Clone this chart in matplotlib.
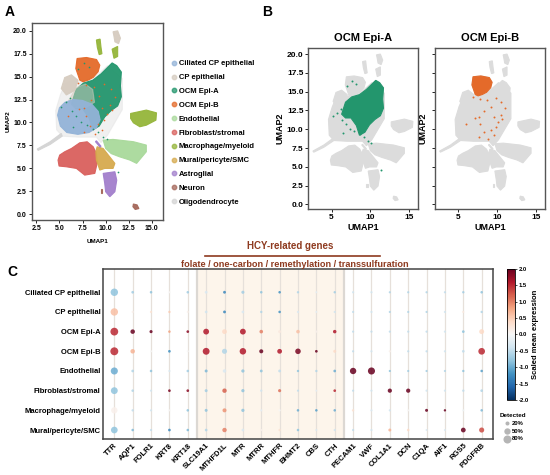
import numpy as np
import matplotlib
matplotlib.use("Agg")
import matplotlib.pyplot as plt
from matplotlib.patches import Polygon
from matplotlib.colors import Normalize
from matplotlib.cm import ScalarMappable
from matplotlib.lines import Line2D

plt.rcParams['font.family'] = ['Liberation Sans', 'DejaVu Sans']
plt.rcParams['font.weight'] = 'bold'
plt.rcParams['axes.labelweight'] = 'bold'
plt.rcParams['axes.titleweight'] = 'bold'

# ---------- UMAP clusters (outlines) ----------
cluster_names = ["Ciliated CP epithelial", "CP epithelial", "OCM Epi-A", "OCM Epi-B",
                 "Endothelial", "Fibroblast/stromal", "Macrophage/myeloid",
                 "Mural/pericyte/SMC", "Astroglial", "Neuron", "Oligodendrocyte"]
cluster_colors = ["#93b3d8", "#d6ccc0", "#23966d", "#e46a2a", "#a9d99b", "#d9605d",
                  "#95b53a", "#d6aa4e", "#a27fcc", "#a5675a", "#d4d4d4"]

oligo_halo = [(4.7, 9.2), (4.6, 11.3), (5.1, 13.0), (5.6, 14.2), (6.4, 14.6), (7.0, 14.4),
              (8.6, 14.7), (10.2, 16.2), (11.8, 14.8), (11.8, 11.4), (10.2, 8.6), (9.5, 7.8),
              (9.0, 8.4), (7.0, 8.4), (5.3, 8.5)]
oligo_line = [(2.6, 7.1), (4.0, 7.9), (5.2, 8.8), (5.3, 8.5), (4.0, 7.6), (2.7, 6.95)]
cp_wedge = [(5.57, 14.9), (6.3, 15.2), (7.02, 14.6), (6.66, 13.5), (5.75, 13.0), (5.2, 13.7)]
cp_top = [(10.8, 19.9), (11.3, 20.0), (11.6, 19.2), (11.4, 18.6), (11.0, 18.8), (10.9, 19.4)]
cp_mix = [(6.0, 12.4), (6.8, 13.8), (7.8, 14.2), (8.6, 13.6), (8.8, 12.2), (7.8, 11.6), (6.6, 11.6)]
epia_body = [(6.3, 12.0), (6.8, 13.6), (7.6, 14.3), (8.6, 14.6), (9.5, 15.3), (10.2, 16.0),
             (10.7, 16.5), (11.2, 16.2), (11.7, 15.5), (11.6, 14.0), (11.7, 12.8), (11.3, 11.8),
             (10.6, 11.3), (9.9, 10.6), (9.3, 9.6), (8.6, 9.2), (8.2, 10.5), (7.5, 11.5), (6.8, 11.5)]
epib_body = [(6.91, 16.98), (7.92, 17.09), (9.01, 16.87), (9.37, 16.25), (9.19, 15.53),
             (8.65, 14.91), (8.10, 14.62), (7.56, 14.44), (7.20, 14.62), (7.02, 15.16), (6.77, 15.89)]
cilia_body = [(4.8, 10.8), (5.0, 11.6), (5.6, 12.2), (6.5, 12.5), (7.5, 12.4), (8.5, 12.0),
              (9.2, 11.2), (9.4, 10.3), (9.0, 9.4), (8.2, 8.9), (7.0, 8.7), (5.8, 8.9), (5.1, 9.6)]
endo_body = [(9.73, 8.07), (10.8, 8.15), (13.0, 7.9), (14.4, 7.53), (14.4, 6.8), (13.35, 5.53),
             (12.6, 5.9), (11.5, 6.25), (10.6, 6.6), (10.0, 7.16)]
fibro_body = [(4.85, 5.89), (4.96, 5.24), (5.75, 5.16), (6.84, 4.98), (7.74, 4.25), (8.83, 4.44),
              (9.08, 5.53), (9.01, 6.62), (8.65, 7.35), (8.0, 7.89), (7.2, 7.78), (6.3, 7.16),
              (5.57, 6.8), (5.03, 6.44)]
macro_body = [(12.7, 10.98), (14.4, 11.35), (15.5, 11.05), (15.44, 10.25), (14.4, 9.7),
              (13.7, 9.53), (13.0, 9.96), (12.7, 10.44)]
macro_top1 = [(9.0, 19.0), (9.4, 19.1), (9.5, 18.2), (9.6, 17.5), (9.3, 17.4), (9.1, 18.2)]
macro_top2 = [(10.7, 18.0), (11.3, 18.3), (11.3, 17.2), (10.9, 17.0)]
mural_body = [(9.08, 7.35), (9.73, 7.16), (11.0, 5.53), (10.8, 4.98), (9.9, 4.98), (9.37, 4.8),
              (9.0, 5.9), (8.94, 6.8)]
astro_body = [(9.73, 4.44), (11.0, 4.62), (11.2, 3.7), (11.0, 2.44), (10.45, 1.89), (10.0, 2.44),
              (9.9, 3.35)]
astro_streak = [(8.9, 7.9), (9.0, 8.0), (9.5, 7.4), (9.4, 7.3)]
neuron_body = [(13.0, 1.1), (13.4, 1.0), (13.6, 0.6), (13.2, 0.5), (12.95, 0.8)]
neuron_bit = [(9.5, 2.75), (9.65, 2.75), (9.65, 2.3), (9.5, 2.3)]

# drawing order: (cluster index, outline)
umap_shapes = [(10, oligo_halo), (10, oligo_line), (2, epia_body), (1, cp_mix), (0, cilia_body),
               (1, cp_wedge), (1, cp_top), (3, epib_body), (4, endo_body), (5, fibro_body),
               (6, macro_body), (6, macro_top1), (6, macro_top2), (7, mural_body),
               (8, astro_body), (8, astro_streak), (9, neuron_body), (9, neuron_bit)]

epia_x = [6.97, 7.63, 8.2, 5.22, 5.75, 6.18, 6.4, 6.84, 7.32, 7.94, 8.64, 9.17, 9.69, 10.13, 11.36, 6.5]
epia_y = [15.8, 16.45, 16.0, 11.7, 12.2, 12.64, 11.26, 10.74, 10.04, 9.74, 9.31, 9.0, 8.44, 8.14, 4.55, 9.5]
epib_x = [6.97, 7.85, 8.73, 9.82, 10.57, 11.0, 10.48, 9.25, 8.38, 7.63, 7.1, 7.85, 9.6, 10.13,
          10.7, 9.82, 9.17, 8.29, 7.63, 5.96, 9.6, 8.8]
epib_y = [14.29, 14.07, 13.85, 14.2, 13.64, 12.77, 11.9, 12.9, 12.47, 11.6, 11.47, 10.74, 11.6,
          10.9, 11.34, 10.3, 9.87, 9.6, 9.0, 10.74, 9.18, 8.74]

# ---------- dot plot data ----------
genes = ["TTR", "AQP1", "FOLR1", "KRT8", "KRT18", "SLC19A1", "MTHFD1L", "MTR", "MTRR", "MTHFR",
         "BHMT2", "CBS", "CTH", "PECAM1", "VWF", "COL1A1", "DCN", "C1QA", "AIF1", "RGS5", "PDGFRB"]
cell_types = ["Ciliated CP epithelial", "CP epithelial", "OCM Epi-A", "OCM Epi-B", "Endothelial",
              "Fibroblast/stromal", "Macrophage/myeloid", "Mural/pericyte/SMC"]
expr = [
    [-0.8, -0.7, -0.8, 0.0, -0.7, -0.3, -1.3, -0.7, -0.8, -1.2, -0.6, -0.2, -0.7, -0.4, -0.4, -0.6, -0.6, -0.6, -0.5, -0.7, -0.8],
    [0.6, 0.1, 0.3, 0.5, 0.1, -0.4, -1.3, -0.3, -0.6, -1.2, -0.3, -0.2, -0.4, -0.5, -0.4, -0.6, -0.6, -0.6, -0.4, 0.2, -0.6],
    [1.5, 2.0, 2.0, 0.8, 1.8, 1.6, 0.4, 1.6, 1.0, 0.2, 0.6, 0.1, 1.6, -0.5, -0.5, -0.5, -0.5, -0.5, -0.4, -0.8, 0.4],
    [1.5, 0.7, 0.0, -1.2, 0.0, 1.6, -0.6, 1.6, 2.0, 1.6, 1.9, 2.0, 0.4, -0.5, -0.4, 0.1, -0.5, -0.5, -0.4, -0.5, 1.5],
    [-1.0, -0.6, -0.8, -0.3, -0.7, -0.9, -0.3, -0.8, -0.8, -0.5, -0.8, -0.6, -1.0, 2.0, 2.0, -0.8, -0.7, -0.7, -0.6, -0.8, -1.1],
    [-0.8, -0.6, -0.4, 1.9, 1.8, -0.7, 1.2, -0.8, -0.4, 1.1, -0.5, -0.2, 1.5, -0.5, -0.4, 2.0, 2.0, -0.4, -0.4, -0.5, -0.6],
    [0.1, -0.5, -0.4, 0.0, -0.8, -0.8, 0.9, -0.8, -0.2, 0.0, -1.0, -1.1, -1.0, 0.3, -0.3, -0.4, 0.0, 2.0, 2.0, -0.1, -0.9],
    [-0.8, -0.9, -0.5, -1.3, -0.9, -0.6, 1.0, -0.3, 0.1, 0.3, -0.8, -0.3, -0.4, -0.5, -0.4, 0.7, 0.4, -0.3, -0.3, 2.0, 1.3],
]
detected = [
    [0.68, 0.09, 0.08, 0.05, 0.08, 0.10, 0.10, 0.12, 0.08, 0.08, 0.07, 0.05, 0.07, 0.06, 0.06, 0.06, 0.06, 0.06, 0.06, 0.07, 0.08],
    [0.68, 0.06, 0.06, 0.07, 0.05, 0.09, 0.10, 0.09, 0.07, 0.08, 0.06, 0.05, 0.06, 0.06, 0.06, 0.06, 0.06, 0.06, 0.06, 0.06, 0.07],
    [0.75, 0.25, 0.12, 0.08, 0.09, 0.42, 0.28, 0.42, 0.16, 0.11, 0.16, 0.06, 0.15, 0.06, 0.06, 0.06, 0.06, 0.06, 0.06, 0.09, 0.30],
    [0.78, 0.25, 0.05, 0.09, 0.05, 0.58, 0.32, 0.52, 0.20, 0.28, 0.38, 0.09, 0.11, 0.06, 0.06, 0.06, 0.06, 0.06, 0.06, 0.09, 0.55],
    [0.62, 0.09, 0.08, 0.06, 0.08, 0.11, 0.15, 0.13, 0.10, 0.10, 0.07, 0.07, 0.09, 0.50, 0.62, 0.06, 0.06, 0.06, 0.06, 0.07, 0.08],
    [0.58, 0.08, 0.06, 0.09, 0.09, 0.11, 0.24, 0.13, 0.07, 0.12, 0.06, 0.05, 0.09, 0.06, 0.06, 0.22, 0.22, 0.06, 0.06, 0.07, 0.09],
    [0.50, 0.07, 0.06, 0.05, 0.08, 0.11, 0.20, 0.13, 0.06, 0.06, 0.08, 0.08, 0.08, 0.07, 0.06, 0.06, 0.05, 0.11, 0.07, 0.05, 0.08],
    [0.55, 0.08, 0.06, 0.09, 0.08, 0.09, 0.24, 0.09, 0.06, 0.07, 0.08, 0.05, 0.06, 0.06, 0.06, 0.11, 0.08, 0.05, 0.05, 0.28, 0.32],
]
hcy_first, hcy_last = 5, 12
size_legend = [0.2, 0.5, 0.8]
size_scale = 42

fig = plt.figure(figsize=(5.5, 4.75), dpi=100)


def draw_umap(ax, highlight=None):
    for idx, pts in umap_shapes:
        if highlight is None:
            col = cluster_colors[idx]
            a = 0.95
            if pts is oligo_halo:
                col, a = "#e6e6e6", 0.6
            elif pts is cp_mix:
                a = 0.5
        else:
            col = "#dcdcdc"
            a = 1.0
        ax.add_patch(Polygon(pts, closed=True, facecolor=col, edgecolor=col, lw=0.8, alpha=a))
    if highlight is None:
        ax.scatter(epib_x, epib_y, s=1.5, color=cluster_colors[3], lw=0, zorder=3)
        ax.scatter(epia_x, epia_y, s=1.5, color=cluster_colors[2], lw=0, zorder=3)
    elif highlight == 2:
        ax.add_patch(Polygon(epia_body, closed=True, facecolor=cluster_colors[2],
                             edgecolor=cluster_colors[2], lw=0.8, zorder=3))
        ax.scatter(epia_x, epia_y, s=2, color=cluster_colors[2], lw=0, zorder=3)
    elif highlight == 3:
        ax.add_patch(Polygon(epib_body, closed=True, facecolor=cluster_colors[3],
                             edgecolor=cluster_colors[3], lw=0.8, zorder=3))
        ax.scatter(epib_x, epib_y, s=2, color=cluster_colors[3], lw=0, zorder=3)
    ax.set_xlim(2.0, 16.2)
    ax.set_ylim(-0.65, 20.85)
    for sp in ax.spines.values():
        sp.set_color("#555555")
        sp.set_linewidth(1.0)


# ---------- panel A ----------
axA = fig.add_axes([0.0576, 0.5368, 0.2387, 0.4147])
draw_umap(axA)
axA.set_xticks(np.arange(2.5, 15.1, 2.5))
axA.set_yticks(np.arange(0, 20.1, 2.5))
axA.xaxis.set_major_formatter(matplotlib.ticker.FormatStrFormatter('%.1f'))
axA.yaxis.set_major_formatter(matplotlib.ticker.FormatStrFormatter('%.1f'))
axA.tick_params(labelsize=5, length=2, width=0.6, pad=1.5)
axA.set_xlabel("UMAP1", fontsize=4.5, labelpad=5)
axA.set_ylabel("UMAP2", fontsize=4.5, labelpad=2)
handles = [Line2D([], [], marker='o', ls='', color=c, alpha=0.75, markersize=3.2) for c in cluster_colors]
fig.legend(handles, cluster_names, loc='upper left', bbox_to_anchor=(0.303, 0.88),
           frameon=False, fontsize=5.5, handletextpad=0.2, labelspacing=0.85,
           borderaxespad=0, handlelength=1.0)

# ---------- panel B ----------
axB1 = fig.add_axes([0.5606, 0.5594, 0.2, 0.3402])
axB2 = fig.add_axes([0.7909, 0.5594, 0.2, 0.3402])
draw_umap(axB1, highlight=2)
draw_umap(axB2, highlight=3)
for ax, title in [(axB1, "OCM Epi-A"), (axB2, "OCM Epi-B")]:
    ax.set_title(title, fontsize=8, pad=5)
    ax.set_xticks([5, 10, 15])
    ax.set_yticks(np.arange(0, 20.1, 2.5))
    ax.tick_params(labelsize=6, length=2, width=0.6, pad=1.5)
    ax.set_xlabel("UMAP1", fontsize=6.5, labelpad=1)
    ax.set_ylabel("UMAP2", fontsize=6.5, labelpad=2)
axB1.yaxis.set_major_formatter(matplotlib.ticker.FormatStrFormatter('%.1f'))
axB2.set_yticklabels([])

# ---------- panel C ----------
axC = fig.add_axes([0.1878, 0.0752, 0.708, 0.358])
ng, nc = len(genes), len(cell_types)
axC.axvspan(hcy_first - 0.5, hcy_last + 0.5, color="#fdf5eb", zorder=0, lw=0)
for xv in (hcy_first - 0.5, hcy_last + 0.5):
    axC.axvline(xv, color="#dcd8d3", lw=1.6, zorder=0.5)
for gi in range(ng):
    axC.axvline(gi, color="#e6e0da", lw=0.9, zorder=0.6)
xs, ys, cs, ss = [], [], [], []
for ri in range(nc):
    for gi in range(ng):
        xs.append(gi)
        ys.append(ri)
        cs.append(expr[ri][gi])
        ss.append(detected[ri][gi] * size_scale)
norm = Normalize(-2, 2)
axC.scatter(xs, ys, s=ss, c=cs, cmap="RdBu_r", norm=norm, alpha=0.85, lw=0, zorder=2)
axC.set_xlim(-0.6, ng - 0.4)
axC.set_ylim(nc - 0.53, -1.17)
axC.set_xticks(range(ng))
axC.set_xticklabels(genes, rotation=45, ha='right', rotation_mode='anchor', fontsize=5.5)
axC.set_yticks(range(nc))
axC.set_yticklabels(cell_types, fontsize=5.5)
axC.tick_params(length=0, pad=2)
for sp in axC.spines.values():
    sp.set_color("#444444")
    sp.set_linewidth(1.1)

hcy_col = "#8e3a1f"
fig.text(0.528, 1 - 246 / 475, "HCY-related genes", color=hcy_col, fontsize=7,
         ha='center', va='center')
fig.add_artist(Line2D([205 / 550, 380 / 550], [1 - 255.5 / 475] * 2, color=hcy_col, lw=1.2))
fig.text(0.536, 1 - 264.5 / 475, "folate / one-carbon / remethylation / transsulfuration",
         color=hcy_col, fontsize=6.6, ha='center', va='center')

# colorbar
cax = fig.add_axes([0.9224, 0.158, 0.014, 0.276])
cb = fig.colorbar(ScalarMappable(norm=norm, cmap="RdBu_r"), cax=cax)
cb.set_ticks(np.arange(-2, 2.01, 0.5))
cb.ax.yaxis.set_major_formatter(matplotlib.ticker.FormatStrFormatter('%.1f'))
cb.ax.tick_params(labelsize=4.2, length=1.5, width=0.5, pad=1)
cb.outline.set_linewidth(0.6)
cb.set_label("Scaled mean expression", fontsize=5.5, labelpad=2)

# size legend
size_handles = [plt.scatter([], [], s=f * size_scale, color="#b5b5b5", lw=0) for f in size_legend]
fig.legend(size_handles, [f"{int(f * 100)}%" for f in size_legend], title="Detected",
           loc='upper left', bbox_to_anchor=(0.905, 0.135), frameon=False, fontsize=4.2,
           title_fontsize=4.5, handletextpad=0.3, labelspacing=0.45, borderaxespad=0,
           handlelength=1.2)

for lbl, x, y in [("A", 10, 12), ("B", 267, 12), ("C", 12, 272)]:
    fig.text(x / 550, 1 - y / 475, lbl, fontsize=10, fontweight='bold', ha='center', va='center')

fig.savefig("out.png", dpi=100)
